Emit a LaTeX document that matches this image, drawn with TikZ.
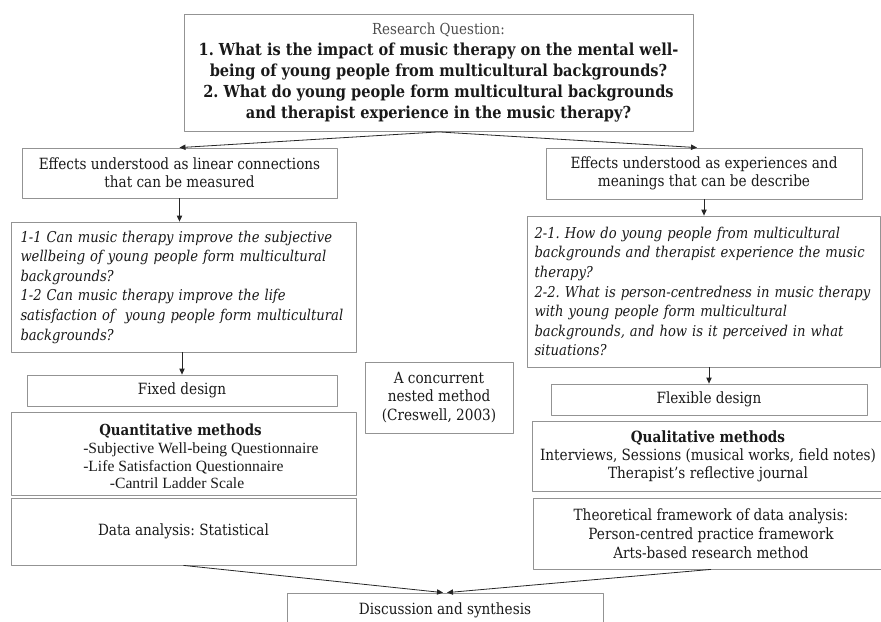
\documentclass[tikz,border=0pt]{standalone}
\usepackage{fontspec}
\setmainfont{DejaVu Serif}[FakeStretch=0.88]
\newfontfamily\listfont{Liberation Serif}
\usetikzlibrary{calc,arrows.meta}
\frenchspacing

\tikzset{
  box/.style={draw=gray!85, line width=0.6pt, inner sep=0pt, align=center,
    text=black!90, font=\fontsize{11.6}{13.5}\selectfont},
  qbox/.style={box, align=left, inner xsep=2pt,
    font=\fontsize{11.2}{14.7}\selectfont\itshape},
  arr/.style={-{Triangle[length=4.5pt,width=4pt]}, line width=0.6pt, black!85},
}

\begin{document}
\begin{tikzpicture}[x=0.75pt,y=-0.75pt,line join=round]
    \useasboundingbox (0,0) rectangle (881,621);
    \clip (0,0) rectangle (881,621);
    % research question
    \node[box, minimum width=509*0.75pt, minimum height=117*0.75pt,
      font=\fontsize{12.4}{15.75}\selectfont\bfseries] (rq) at (438.5,73)
      {{\mdseries\fontsize{11.4}{15.75}\selectfont\color{black!70}Research Question:}\\
       1. What is the impact of music therapy on the mental well-\\
       being of young people from multicultural backgrounds?\\
       2. What do young people form multicultural backgrounds\\
       and therapist experience in the music therapy?};
    % left branch
    \node[box, minimum width=315*0.75pt, minimum height=50*0.75pt] (effL) at (179.5,173)
      {Effects understood as linear connections\\ that can be measured};
    \node[qbox, text width=326*0.75pt, minimum width=345*0.75pt,
      minimum height=130*0.75pt] (qL) at (183.5,287)
      {1-1 Can music therapy improve the subjective\\
       wellbeing of young people form multicultural\\
       backgrounds?\\
       1-2 Can music therapy improve the life\\
       satisfaction of \ young people form multicultural\\
       backgrounds?};
    \node[box, minimum width=310*0.75pt, minimum height=31*0.75pt] (fixed) at (182,390.5)
      {Fixed design};
    \node[box, minimum width=345*0.75pt, minimum height=83*0.75pt] (quant) at (183.5,453.5) {};
    \node[anchor=west, align=left, inner sep=0pt, text=black!90,
      font=\listfont\fontsize{11.7}{13.2}\selectfont] (quanttxt) at (83,456.5)
      {\hspace*{12pt}{\rmfamily\bfseries\fontsize{11.4}{13.2}\selectfont Quantitative methods}\\
       -Subjective Well-being Questionnaire\\
       -Life Satisfaction Questionnaire\\
       \hspace*{20pt}-Cantril Ladder Scale};
    \node[box, minimum width=345*0.75pt, minimum height=67*0.75pt] (data) at (183.5,531.5)
      {Data analysis: Statistical};
    % middle
    \node[box, minimum width=148*0.75pt, minimum height=71*0.75pt,
      font=\fontsize{11.6}{13.9}\selectfont] (nested) at (439,397.5)
      {A concurrent\\ nested method\\ (Creswell, 2003)};
    % right branch
    \node[box, minimum width=316*0.75pt, minimum height=51*0.75pt] (effR) at (704,173.5)
      {Effects understood as experiences and\\ meanings that can be describe};
    \node[qbox, text width=338*0.75pt, minimum width=353*0.75pt,
      minimum height=151*0.75pt] (qR) at (703.5,291.5)
      {2-1. How do young people from multicultural\\
       backgrounds and therapist experience the music\\
       therapy?\\
       2-2. What is person-centredness in music therapy\\
       with young people form multicultural\\
       backgrounds, and how is it perceived in what\\
       situations?};
    \node[box, minimum width=316*0.75pt, minimum height=31*0.75pt] (flex) at (709,399.5)
      {Flexible design};
    \node[box, minimum width=352*0.75pt, minimum height=70*0.75pt] (quali) at (708,456)
      {\textbf{Qualitative methods}\\
       Interviews, Sessions (musical works, field notes)\\
       Therapist’s reflective journal};
    \node[box, minimum width=356*0.75pt, minimum height=71*0.75pt,
      font=\fontsize{11.6}{14.2}\selectfont] (theo) at (711,533.5)
      {Theoretical framework of data analysis:\\
       Person-centred practice framework\\
       Arts-based research method};
    % bottom
    \node[box, minimum width=316*0.75pt, minimum height=34*0.75pt] (disc) at (445,610)
      {Discussion and synthesis};
    % arrows
    \draw[arr] (rq.south) -- (effL.north);
    \draw[arr] (rq.south) -- ($(effR.north)+(-7,0)$);
    \draw[arr] (effL.south) -- (effL.south |- qL.north);
    \draw[arr] (effR.south) -- (effR.south |- qR.north);
    \draw[arr] (fixed.north |- qL.south) -- (fixed.north);
    \draw[arr] (flex.north |- qR.south) -- (flex.north);
    \draw[arr] (data.south) -- ($(disc.north)+(-2,0)$);
    \draw[arr] (theo.south) -- ($(disc.north)+(2,0)$);
  \end{tikzpicture}
\end{document}
